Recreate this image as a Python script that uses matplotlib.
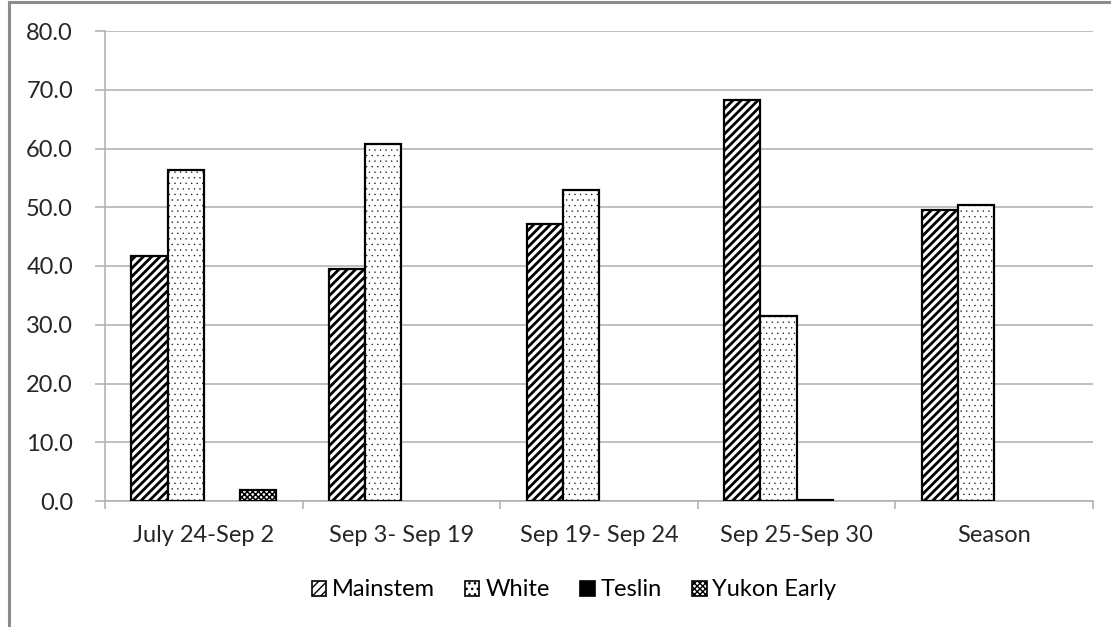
import matplotlib.pyplot as plt
from matplotlib.patches import Patch
from matplotlib.lines import Line2D
import numpy as np

plt.rcParams.update({
    'font.family': ['Lato', 'DejaVu Sans'],
    'font.size': 17,
})

# данные с графика
categories = ['July 24-Sep 2', 'Sep 3- Sep 19', 'Sep 19- Sep 24', 'Sep 25-Sep 30', 'Season']
mainstem = [41.7, 39.5, 47.2, 68.3, 49.5]
white = [56.3, 60.7, 53.0, 31.5, 50.4]
teslin = [0.0, 0.0, 0.0, 0.2, 0.0]
yukon_early = [1.8, 0.0, 0.0, 0.0, 0.0]
y_ticks = np.arange(0, 81, 10)

# имя, значения, заливка, штриховка, толщина штриховки
series = [
    ('Mainstem', mainstem, 'white', '////', 2.0),
    ('White', white, 'white', '...', 0.2),
    ('Teslin', teslin, 'black', None, 1.0),
    ('Yukon Early', yukon_early, 'white', 'xxxxxx', 1.1),
]

fig = plt.figure(figsize=(11.11, 6.27), dpi=100)
ax = fig.add_axes([105 / 1111, 1 - 501 / 627, (1093 - 105) / 1111, (501 - 31) / 627])

x = np.arange(len(categories))
w = 0.183
handles = []
for i, (name, vals, fc, hatch, hlw) in enumerate(series):
    vals = np.array(vals)
    lw = np.where(vals > 0, 1.6, 0)
    with plt.rc_context({'hatch.linewidth': hlw}):
        ax.bar(x + (i - 1.5) * w, vals, w, color=fc, edgecolor='black',
               hatch=hatch, linewidth=lw, zorder=3)
        handles.append(Patch(facecolor=fc, edgecolor='black', hatch=hatch,
                             linewidth=1.2, label=name))

ax.set_xlim(-0.5, len(categories) - 0.5)
ax.set_ylim(0, 80)
ax.set_yticks(y_ticks)
ax.set_yticklabels([f'{v:.1f}' for v in y_ticks])
ax.set_xticks(x)
ax.set_xticklabels(categories)
ax.set_xticks(np.arange(len(categories) + 1) - 0.5, minor=True)

grid_col = '#AEAEAE'
ax.grid(False)
ax.yaxis.grid(True, color=grid_col, linewidth=1.1, zorder=0)
ax.set_axisbelow(True)
for s in ['top', 'right']:
    ax.spines[s].set_visible(False)
for s in ['left', 'bottom']:
    ax.spines[s].set_color(grid_col)
    ax.spines[s].set_linewidth(1.1)
ax.tick_params(axis='y', colors=grid_col, length=7, width=1.1, labelcolor='#262626', pad=16)
ax.tick_params(axis='x', which='major', length=0, labelcolor='#262626', pad=17)
ax.tick_params(axis='x', which='minor', length=6, width=1.1, color=grid_col)

fig.legend(handles=handles, loc='center', bbox_to_anchor=(574 / 1111, 1 - 590 / 627),
           ncol=4, frameon=False, handlelength=0.6, handleheight=0.6,
           handletextpad=0.25, columnspacing=1.3)

# рамка области диаграммы (видны только левая и верхняя стороны)
fig.add_artist(Line2D([9 / 1111, 9 / 1111], [0, 1 - 2 / 627], color='#8C8C8C', linewidth=2.2))
fig.add_artist(Line2D([9 / 1111, 1], [1 - 2 / 627, 1 - 2 / 627], color='#8C8C8C', linewidth=2.2))

fig.savefig('out.png', dpi=100)
